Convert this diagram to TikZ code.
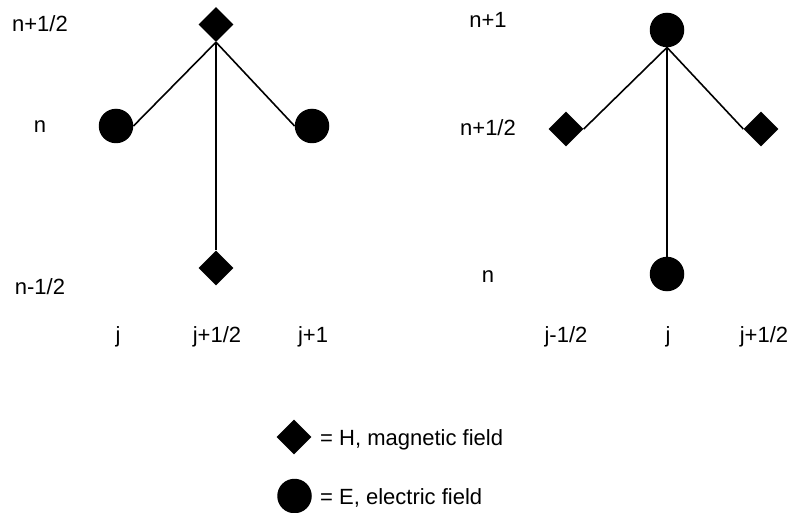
\documentclass[tikz,border=0pt]{standalone}
\usepackage{fontspec}
\setmainfont{Liberation Sans}
\usetikzlibrary{shapes.geometric}
\begin{document}
\begin{tikzpicture}[x=1pt,y=-1pt,
  hfield/.style={diamond,fill=black,inner sep=0pt,minimum size=35pt},
  efield/.style={circle,fill=black,inner sep=0pt,minimum size=34.5pt},
  lbl/.style={anchor=base,inner sep=0pt,font=\fontsize{22}{26}\selectfont},
  leg/.style={anchor=base west,inner sep=0pt,font=\fontsize{22}{26}\selectfont},
  link/.style={line width=1.6pt}]
\useasboundingbox (0,0) rectangle (791,513);
% left diagram
\node[hfield] (lt) at (216,24.5) {};
\node[efield] (ll) at (116,126) {};
\node[efield] (lr) at (312,126) {};
\node[hfield] (lb) at (216,268) {};
\draw[link] (lt.south) -- (ll.east);
\draw[link] (lt.south) -- (lr.west);
\draw[link] (lt.south) -- (lb.north);
\node[lbl] (ln1) at (40,32) {n+1/2};
\node[lbl] (ln2) at (40,133) {n};
\node[lbl] (ln3) at (40,294) {n-1/2};
\node[lbl] (lj1) at (118,342) {j};
\node[lbl] (lj2) at (217,342) {j+1/2};
\node[lbl] (lj3) at (313,342) {j+1};
% right diagram
\node[efield] (rt) at (667,30) {};
\node[hfield] (rl) at (566,129) {};
\node[hfield] (rr) at (761,129) {};
\node[efield] (rb) at (667,274) {};
\draw[link] (rt.south) -- (rl.east);
\draw[link] (rt.south) -- (rr.west);
\draw[link] (rt.south) -- (rb.north);
\node[lbl] (rn1) at (488,28) {n+1};
\node[lbl] (rn2) at (488,136) {n+1/2};
\node[lbl] (rn3) at (488,282) {n};
\node[lbl] (rj1) at (566,342) {j-1/2};
\node[lbl] (rj2) at (668,342) {j};
\node[lbl] (rj3) at (764,342) {j+1/2};
% legend
\node[hfield] (kh) at (294,437) {};
\node[efield] (ke) at (294.5,496) {};
\node[leg] (th) at (320,445) {= H, magnetic field};
\node[leg] (te) at (320,504) {= E, electric field};
\end{tikzpicture}
\end{document}
